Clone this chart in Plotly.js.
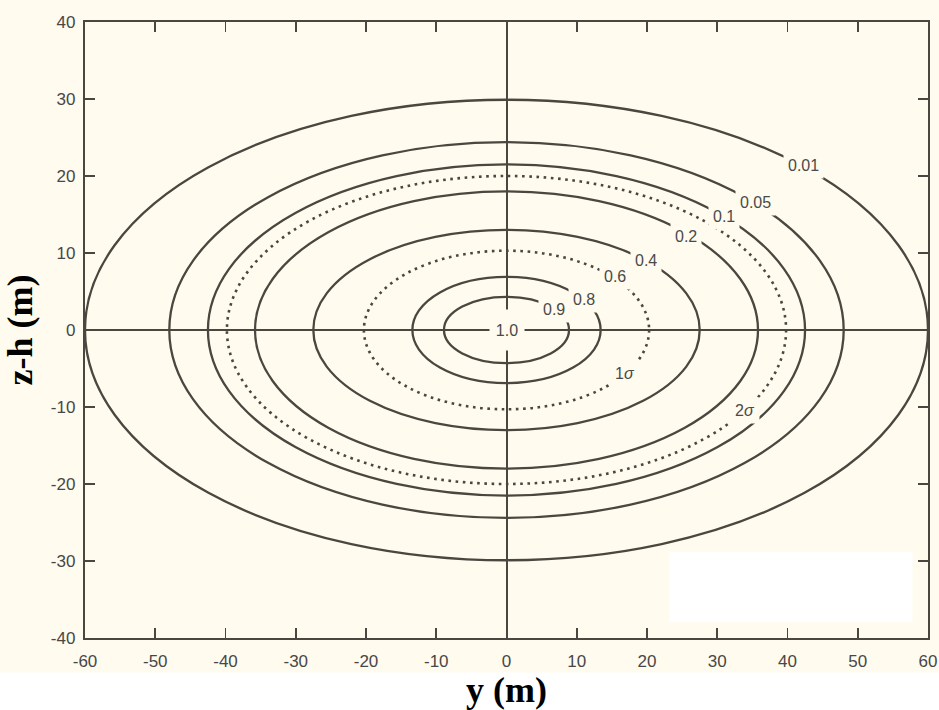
<!DOCTYPE html>
<html>
<head>
<meta charset="utf-8">
<script src="https://cdn.plot.ly/plotly-3.0.1.min.js"></script>
<style>
  html, body { margin: 0; padding: 0; background: #fffbee; }
  #chart { width: 939px; height: 710px; }
</style>
</head>
<body>
<div id="chart"></div>
<script>
// Contour levels (relative concentration)
const levels      = ['0.9', '0.8', '1σ (0.6)', '0.4', '0.2', '2σ', '0.1', '0.05', '0.01'];
// Horizontal semi-axis (y, m) of each contour ellipse
const semiY       = [8.9, 13.4, 20.3, 27.5, 35.8, 39.8, 42.5, 48.0, 60.0];
// Vertical semi-axis (z-h, m) of each contour ellipse
const semiZ       = [4.3, 6.9, 10.3, 13.0, 18.0, 20.0, 21.5, 24.4, 29.9];
// Line style of each contour: solid or dotted
const lineStyle   = ['solid', 'solid', 'dot', 'solid', 'solid', 'dot', 'solid', 'solid', 'solid'];

// Inline contour labels and their positions (data coordinates)
const labelText   = ['0.01', '0.05', '0.1', '0.2', '0.4', '0.6', '0.8', '0.9', '1.0', '1<i>σ</i>', '2<i>σ</i>'];
const labelY      = [42.3, 35.4, 31.0, 25.6, 19.9, 15.5, 11.0, 6.7, 0.0, 16.9, 33.9];
const labelZ      = [21.4, 16.6, 14.8, 12.2, 9.0, 7.0, 4.0, 2.6, 0.0, -5.7, -10.5];

// Axis ticks
const xTicks = [-60, -50, -40, -30, -20, -10, 0, 10, 20, 30, 40, 50, 60];
const yTicks = [-40, -30, -20, -10, 0, 10, 20, 30, 40];

const INK = '#4b463f';
const BG = '#fffbee';

const shapes = [];
// white patch of the scan (lower right, inside plot)
shapes.push({type: 'rect', xref: 'x', yref: 'y', x0: 23.2, x1: 57.8, y0: -37.9, y1: -28.8,
  fillcolor: '#ffffff', line: {width: 0}, layer: 'below'});
// white band at the bottom of the page
shapes.push({type: 'rect', xref: 'paper', yref: 'paper', x0: -0.2, x1: 1.2, y0: -0.2, y1: -0.056,
  fillcolor: '#ffffff', line: {width: 0}, layer: 'below'});

for (let i = 0; i < semiY.length; i++) {
  shapes.push({
    type: 'circle', xref: 'x', yref: 'y',
    x0: -semiY[i], x1: semiY[i], y0: -semiZ[i], y1: semiZ[i],
    line: {color: INK, width: lineStyle[i] === 'dot' ? 2.6 : 2.3,
           dash: lineStyle[i] === 'dot' ? '2.6px,4.6px' : 'solid'},
    layer: 'above'
  });
}

const annotations = labelText.map((t, i) => {
  const a = {
    x: labelY[i], y: labelZ[i], xref: 'x', yref: 'y',
    text: t, showarrow: false, xanchor: 'center', yanchor: 'middle',
    font: {family: 'Liberation Sans, Arial, sans-serif', size: 16, color: '#4a4a4a'},
    bgcolor: BG, borderpad: 4
  };
  if (t === '1.0') { a.width = 30; a.height = 36; a.borderpad = 2; }
  return a;
});

const data = [{x: [0], y: [0], type: 'scatter', mode: 'markers',
  marker: {size: 1, opacity: 0}, hoverinfo: 'skip', showlegend: false}];

const axisCommon = {
  showgrid: false, zeroline: true, zerolinecolor: INK, zerolinewidth: 2,
  showline: true, linecolor: INK, linewidth: 2.2, mirror: 'ticks',
  ticks: 'inside', ticklen: 10, tickwidth: 1.6, tickcolor: INK,
  tickfont: {family: 'Liberation Sans, Arial, sans-serif', size: 17, color: '#474747'},
  automargin: false
};

const layout = {
  width: 939, height: 710,
  margin: {l: 85, r: 11, t: 22, b: 72},
  paper_bgcolor: BG, plot_bgcolor: BG,
  showlegend: false,
  xaxis: Object.assign({}, axisCommon, {
    range: [-60, 60], tickvals: xTicks, ticktext: xTicks.map(String),
    ticklabelstandoff: 6,
    title: {text: 'y (m)', standoff: 2,
      font: {family: 'Liberation Serif, Times New Roman, serif', size: 36, color: '#000', weight: 'bold'}}
  }),
  yaxis: Object.assign({}, axisCommon, {
    range: [-40, 40], tickvals: yTicks, ticktext: yTicks.map(String),
    ticklabelstandoff: 4,
    title: {text: 'z-h (m)', standoff: 8,
      font: {family: 'Liberation Serif, Times New Roman, serif', size: 36, color: '#000', weight: 'bold'}}
  }),
  shapes: shapes,
  annotations: annotations
};

Plotly.newPlot('chart', data, layout, {staticPlot: true, displayModeBar: false});
</script>
</body>
</html>
